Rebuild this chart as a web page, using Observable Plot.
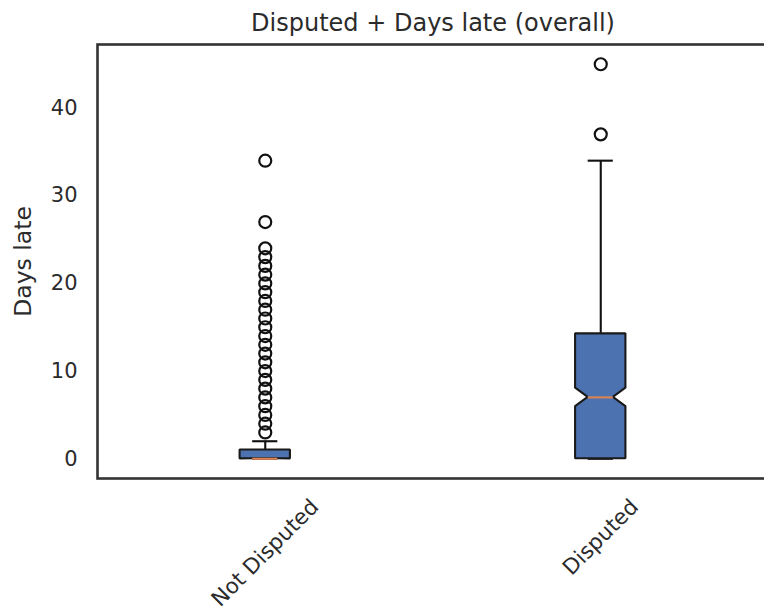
<!DOCTYPE html>
<html>
<head>
<meta charset="utf-8">
<script src="https://cdn.jsdelivr.net/npm/d3@7"></script>
<script src="https://cdn.jsdelivr.net/npm/@observablehq/plot@0.6"></script>
<style>
  html, body { margin: 0; padding: 0; background: #fff; overflow: hidden; }
  svg { overflow: hidden; }
</style>
</head>
<body>
<div id="chart"></div>
<script>
// Box statistics of days late, one entry per dispute status
const categories   = ["Not Disputed", "Disputed"];
const whiskerLow   = [0, 0];
const q1           = [0, 0];
const median       = [0, 7];
const q3           = [1, 14.25];
const whiskerHigh  = [2, 34];
const notchLow     = [-0.03, 5.95];
const notchHigh    = [0.03, 8.05];
// Outliers beyond the whiskers
const fliersNotDisputed = [3, 4, 5, 6, 7, 8, 9, 10, 11, 12, 13, 14, 15, 16, 17, 18, 19, 20, 21, 22, 23, 24, 27, 34];
const fliersDisputed    = [37, 45];
const yTicks = [0, 10, 20, 30, 40];
const titleText = "Disputed + Days late (overall)";
const yLabel = "Days late";

const boxWidth = 0.15;          // box width in position units
const half = boxWidth / 2;
const inner = boxWidth / 4;     // notch waist and cap half-width

const stats = categories.map((cat, i) => ({
  cat, pos: i + 1,
  lo: whiskerLow[i], q1: q1[i], med: median[i], q3: q3[i], hi: whiskerHigh[i],
  nlo: notchLow[i], nhi: notchHigh[i]
}));

// Outline of each notched box as a horizontal-extent area
const boxOutline = stats.flatMap(s => [
  {cat: s.cat, y: s.q1,  x1: s.pos - half,  x2: s.pos + half},
  {cat: s.cat, y: s.nlo, x1: s.pos - half,  x2: s.pos + half},
  {cat: s.cat, y: s.med, x1: s.pos - inner, x2: s.pos + inner},
  {cat: s.cat, y: s.nhi, x1: s.pos - half,  x2: s.pos + half},
  {cat: s.cat, y: s.q3,  x1: s.pos - half,  x2: s.pos + half}
]);

const fliers = [
  ...fliersNotDisputed.map(v => ({pos: 1, v})),
  ...fliersDisputed.map(v => ({pos: 2, v}))
];

const ink = "#2b2b2b";
const lw = 2.1;

const plot = Plot.plot({
  width: 764,
  height: 614,
  marginTop: 44,
  marginBottom: 136,
  marginLeft: 97,
  marginRight: -4,
  style: {fontFamily: "DejaVu Sans", fontSize: "21px", color: ink, background: "#fff"},
  x: {domain: [0.5, 2.5]},
  y: {domain: [-2.25, 47.25]},
  marks: [
    Plot.ruleX(stats, {x: "pos", y1: "q3", y2: "hi", stroke: "#111", strokeWidth: lw}),
    Plot.ruleX(stats, {x: "pos", y1: "lo", y2: "q1", stroke: "#111", strokeWidth: lw}),
    Plot.ruleY(stats, {y: "hi", x1: d => d.pos - inner, x2: d => d.pos + inner, stroke: "#111", strokeWidth: lw}),
    Plot.ruleY(stats, {y: "lo", x1: d => d.pos - inner, x2: d => d.pos + inner, stroke: "#111", strokeWidth: lw}),
    Plot.areaX(boxOutline, {y: "y", x1: "x1", x2: "x2", z: "cat", fill: "#4C72B0", stroke: "#1a1a1a", strokeWidth: lw, strokeLinejoin: "miter"}),
    Plot.ruleY(stats, {y: "med", x1: d => d.pos - inner, x2: d => d.pos + inner, stroke: "#DD8452", strokeWidth: lw}),
    Plot.dot(fliers, {x: "pos", y: "v", r: 6, stroke: "#111", strokeWidth: 2.2, fill: "none"}),
    Plot.frame({stroke: "#333", strokeWidth: 2.6}),
    Plot.axisY({ticks: yTicks, tickSize: 0, tickPadding: 20, label: null, fontSize: 21}),
    Plot.axisX({ticks: [1, 2], tickFormat: d => categories[d - 1], tickRotate: -45, tickSize: 0, tickPadding: 20, label: null, fontSize: 21.5}),
    Plot.text([titleText], {frameAnchor: "top", lineAnchor: "bottom", dy: -14, fontSize: 24, fill: ink}),
    Plot.text([yLabel], {frameAnchor: "left", rotate: -90, textAnchor: "middle", lineAnchor: "middle", dx: -74, fontSize: 23.5, fill: ink})
  ]
});

document.getElementById("chart").appendChild(plot);

// Center each rotated category label under its tick, hanging from a common top line
const xScale = plot.scale("x");
const svgBox = plot.getBoundingClientRect();
const labelTop = 494;
plot.querySelectorAll('g[aria-label="x-axis tick label"] text').forEach(t => {
  const i = categories.indexOf(t.textContent);
  if (i < 0) return;
  const cx = xScale.apply(i + 1);
  const r = t.getBoundingClientRect();
  const dx = cx - ((r.left + r.right) / 2 - svgBox.left);
  const dy = labelTop - (r.top - svgBox.top);
  t.setAttribute("transform", `translate(${dx},${dy}) ` + (t.getAttribute("transform") || ""));
});
</script>
</body>
</html>
